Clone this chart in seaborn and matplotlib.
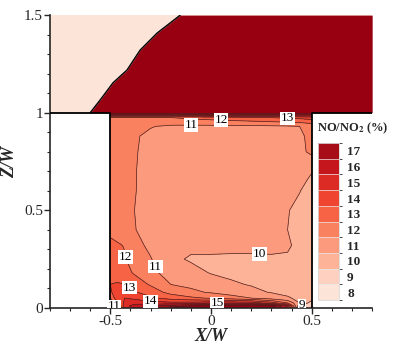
import numpy as np
import matplotlib
matplotlib.use("Agg")
import matplotlib.pyplot as plt
from matplotlib.colors import ListedColormap, BoundaryNorm
from matplotlib.cm import ScalarMappable
from matplotlib.ticker import MultipleLocator, FormatStrFormatter
import seaborn as sns

# --- canyon field, NO/NO2 (%) on a coarse grid ---
x_nodes = [-0.5, -0.47, -0.43, -0.38, -0.3, -0.2, -0.1, 0.0, 0.1, 0.2, 0.3, 0.38, 0.44, 0.48, 0.5]
z_nodes = [0.0, 0.01, 0.025, 0.05, 0.08, 0.12, 0.18, 0.25, 0.32, 0.4, 0.5,
           0.6, 0.7, 0.8, 0.88, 0.93, 0.975, 1.0]
no_ratio = [
    [10.5, 11.0, 14.0, 15.5, 16.5, 17.5, 18.0, 18.0, 18.2, 18.5, 18.5, 14.0, 8.5, 8.3, 8.2],
    [10.5, 11.5, 14.5, 15.5, 16.0, 16.5, 17.0, 17.3, 17.6, 17.8, 17.5, 15.0, 9.0, 8.5, 8.3],
    [11.0, 12.5, 14.2, 14.6, 14.4, 14.3, 14.4, 14.6, 14.7, 14.6, 13.5, 12.0, 10.0, 9.0, 8.7],
    [12.0, 13.5, 14.0, 13.8, 13.2, 12.6, 12.2, 11.9, 11.5, 11.0, 10.5, 10.1, 9.8, 9.5, 9.3],
    [12.8, 13.6, 13.5, 13.1, 12.5, 11.7, 11.2, 10.9, 10.5, 10.2, 9.95, 9.8, 9.65, 9.5, 9.4],
    [13.0, 13.1, 13.05, 12.5, 11.9, 11.0, 10.8, 10.45, 10.1, 9.95, 9.85, 9.75, 9.65, 9.55, 9.5],
    [12.6, 12.5, 12.3, 11.9, 11.2, 10.7, 10.3, 9.95, 9.85, 9.8, 9.75, 9.7, 9.65, 9.6, 9.55],
    [12.5, 12.4, 12.1, 11.5, 11.05, 10.2, 9.9, 9.92, 9.9, 9.9, 9.92, 9.95, 9.85, 9.7, 9.6],
    [12.3, 12.15, 11.95, 11.3, 10.8, 10.4, 10.2, 10.15, 10.15, 10.15, 10.15, 10.05, 9.9, 9.7, 9.6],
    [11.7, 11.55, 11.35, 11.05, 10.55, 10.35, 10.3, 10.25, 10.2, 10.15, 10.08, 10.0, 9.8, 9.6, 9.5],
    [11.5, 11.4, 11.3, 11.0, 10.55, 10.35, 10.3, 10.3, 10.25, 10.2, 10.12, 10.03, 9.85, 9.7, 9.6],
    [11.5, 11.4, 11.3, 11.05, 10.6, 10.4, 10.35, 10.3, 10.3, 10.3, 10.25, 10.15, 10.02, 9.85, 9.75],
    [11.5, 11.4, 11.3, 11.05, 10.65, 10.45, 10.4, 10.35, 10.35, 10.35, 10.4, 10.35, 10.25, 10.1, 10.03],
    [11.5, 11.4, 11.3, 11.08, 10.7, 10.5, 10.45, 10.4, 10.4, 10.45, 10.5, 10.6, 10.8, 11.05, 11.2],
    [11.5, 11.4, 11.3, 11.1, 10.8, 10.6, 10.55, 10.5, 10.5, 10.55, 10.6, 10.7, 10.85, 11.1, 11.3],
    [11.6, 11.5, 11.4, 11.3, 11.05, 10.85, 10.8, 10.8, 10.8, 10.8, 10.85, 10.9, 11.0, 11.2, 11.4],
    [12.0, 12.0, 12.0, 12.0, 12.0, 12.0, 12.2, 12.4, 12.6, 12.8, 13.0, 13.2, 13.3, 13.4, 13.5],
    [18.0] * 15,
]

# plume front above the roof (dark region to the right of it)
front_z = [1.0, 1.066, 1.153, 1.219, 1.321, 1.408, 1.5]
front_x = [-0.60, -0.55, -0.487, -0.417, -0.352, -0.268, -0.153]

# legend
legend_values = [8, 9, 10, 11, 12, 13, 14, 15, 16, 17]
swatch_colors = ["#fde4d8", "#fdd0bf", "#fcb398", "#fb9a7c", "#f9815f",
                 "#f66445", "#ee4430", "#dc2a25", "#c4161c", "#a60d17"]
over_color = "#980012"

# contour label spots
label_spots = {
    9: [(0.44, 0.04)],
    10: [(0.24, 0.26)],
    11: [(-0.1, 0.94), (-0.3, 0.2), (-0.47, 0.025)],
    12: [(0.05, 0.975), (-0.43, 0.26)],
    13: [(0.38, 0.98), (-0.4, 0.11)],
    14: [(-0.3, 0.04)],
    15: [(0.03, 0.02)],
}

# geometry
x_min, x_max = -0.8, 0.8
z_top, roof = 1.5, 1.0
wall_l, wall_r = -0.5, 0.5

sns.set_style("ticks")
plt.rcParams["font.family"] = ["Liberation Serif", "DejaVu Serif"]
plt.rcParams["mathtext.fontset"] = "stix"

fig = plt.figure(figsize=(3.93, 3.44), dpi=100)
ax = fig.add_axes([0.127, 0.105, 0.82, 0.851])

levels = list(range(7, 18))
cmap = ListedColormap(swatch_colors)
cmap.set_under(swatch_colors[0])
cmap.set_over(over_color)
norm = BoundaryNorm(levels, cmap.N)

# above the roof
ax.fill_between([x_min, x_max], roof, z_top, color=swatch_colors[0], lw=0, zorder=1)
ax.fill_betweenx(front_z, front_x, x_max, color=over_color, lw=0, zorder=2)
ax.plot(front_x, front_z, color="black", lw=1.0, zorder=3)

# canyon
X, Z = np.meshgrid(x_nodes, z_nodes)
V = np.array(no_ratio)
ax.contourf(X, Z, V, levels=levels, cmap=cmap, norm=norm, extend="both", zorder=2)
ax.contour(X, Z, V, levels=list(range(8, 18)), colors="#4a2020",
           linewidths=0.5, zorder=3)
for lev, spots in label_spots.items():
    cs_lev = ax.contour(X, Z, V, levels=[lev], colors="none", linewidths=0)
    txts = ax.clabel(cs_lev, manual=spots, inline=False, fmt="%d",
                     fontsize=9.5, colors="black")
    for t in txts:
        t.set_bbox(dict(facecolor="white", edgecolor="none", pad=0.5))
        t.set_rotation(0)
        t.set_zorder(6)

# building outlines
ax.plot([x_min, wall_l, wall_l], [roof, roof, 0], color="black", lw=1.3, zorder=5)
ax.plot([wall_r, wall_r, x_max], [0, roof, roof], color="black", lw=1.3, zorder=5)

ax.set_xlim(x_min, x_max)
ax.set_ylim(0, z_top)
sns.despine(ax=ax)
ax.spines["left"].set_linewidth(1.2)
ax.spines["bottom"].set_linewidth(1.2)
ax.xaxis.set_major_locator(MultipleLocator(0.5))
ax.xaxis.set_minor_locator(MultipleLocator(0.1))
ax.yaxis.set_major_locator(MultipleLocator(0.5))
ax.yaxis.set_minor_locator(MultipleLocator(0.1))
ax.xaxis.set_major_formatter(FormatStrFormatter("%g"))
ax.yaxis.set_major_formatter(FormatStrFormatter("%g"))
ax.tick_params(which="major", direction="out", length=4, width=1, labelsize=11, pad=1)
ax.tick_params(which="minor", direction="out", length=2.5, width=0.8)
ax.set_xlabel("X/W", fontsize=13, fontweight="bold", style="italic", labelpad=0)
ax.set_ylabel("Z/W", fontsize=13, fontweight="bold", style="italic", labelpad=4)

# colour legend inside the right building
cax = fig.add_axes([0.809, 0.128, 0.053, 0.456])
sm = ScalarMappable(norm=BoundaryNorm(levels, cmap.N), cmap=ListedColormap(swatch_colors))
cb = fig.colorbar(sm, cax=cax, drawedges=True)
cb.outline.set_edgecolor("#d8d8d8")
cb.outline.set_linewidth(0.6)
cb.dividers.set_color("#e8e8e8")
cb.dividers.set_linewidth(0.5)
cb.set_ticks([l + 0.5 for l in levels[:-1]], labels=[str(v) for v in legend_values])
cax.tick_params(length=0, pad=6)
for t in cax.get_yticklabels():
    t.set_fontweight("bold")
    t.set_fontsize(9.5)
fig.text(0.806, 0.628, r"NO/NO$_\mathbf{2}$ (%)", fontsize=9, fontweight="bold",
         ha="left", va="center")

fig.savefig("out.png", dpi=100)
